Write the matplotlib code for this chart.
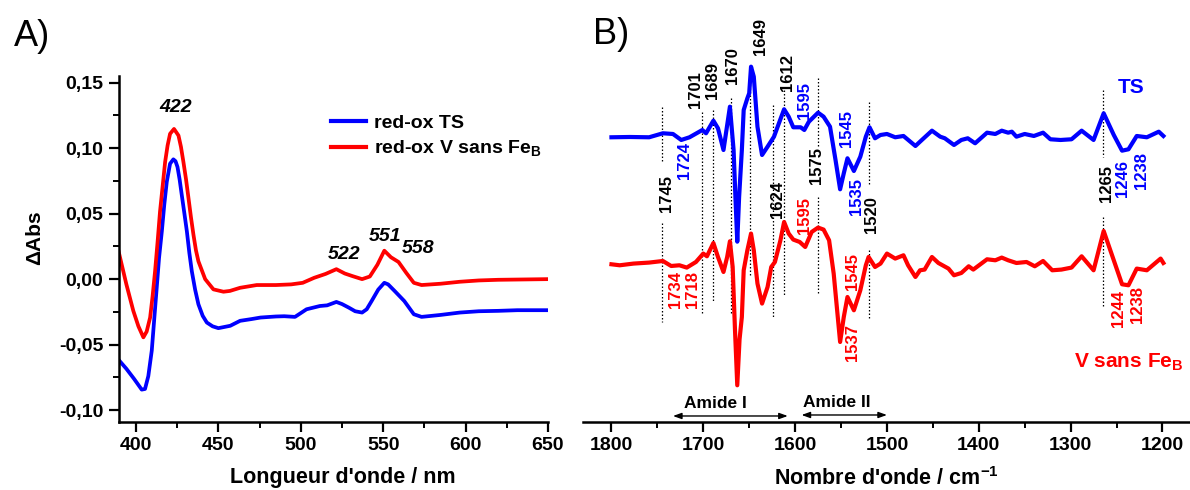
import numpy as np
import matplotlib.pyplot as plt
from matplotlib.ticker import MultipleLocator, FuncFormatter

plt.rcParams['font.family'] = ['Liberation Sans', 'DejaVu Sans']
plt.rcParams['mathtext.fontset'] = 'custom'
plt.rcParams['mathtext.rm'] = 'Liberation Sans'
plt.rcParams['mathtext.bf'] = 'Liberation Sans:bold'
plt.rcParams['mathtext.it'] = 'Liberation Sans:italic'

# ---------------- Panel A : UV-vis red-ox difference spectra ----------------
wl_ts = [389.5, 394.2, 398.8, 403.5, 405.5, 407.5, 409.6, 411, 412.6, 414, 415.7,
         417.2, 418.7, 420.7, 422.7, 424, 425.2, 426.5, 427.8, 429.4, 430.9, 432.4,
         433.9, 435.9, 437.9, 440.5, 443, 446.5, 450, 457.2, 463.2, 470, 475.6,
         484.9, 490, 496.5, 503.5, 511.6, 516, 521.6, 525, 529.1, 533, 537.2, 540,
         543, 547, 550.7, 553, 557, 562.8, 568.6, 573.3, 584.9, 596.5, 608, 619.8,
         631.4, 650]
abs_ts = [-0.0616, -0.0684, -0.076, -0.0843, -0.0838, -0.074, -0.0545, -0.032,
          -0.0066, 0.016, 0.0364, 0.057, 0.0742, 0.0881, 0.0914, 0.090, 0.0856,
          0.076, 0.0642, 0.050, 0.0364, 0.020, 0.006, -0.008, -0.0192, -0.028,
          -0.0331, -0.036, -0.0374, -0.0356, -0.0318, -0.0305, -0.0293, -0.0285,
          -0.0283, -0.0288, -0.023, -0.0205, -0.020, -0.0174, -0.019, -0.0217,
          -0.0245, -0.0255, -0.023, -0.0167, -0.008, -0.0028, -0.004, -0.0091,
          -0.0167, -0.0268, -0.0288, -0.0273, -0.0255, -0.0245, -0.0242, -0.0237,
          -0.0237]

wl_v = [389.5, 394.2, 398.4, 401.5, 404.5, 406.5, 408.6, 410.1, 411.6, 413.1,
        414.6, 416.2, 417.7, 419.2, 420.7, 423.1, 425.8, 427.3, 428.8, 430.4, 431.9,
        433.4, 434.9, 436.4, 437.9, 442, 447, 453.1, 457, 463.2, 473.3, 484.9,
        494.2, 501.2, 508.1, 515.1, 521.6, 526.7, 531.4, 537.2, 541.9, 546.5, 550.7,
        554.7, 559.3, 564, 568.6, 573.3, 584.9, 596.5, 608, 619.8, 650]
abs_v = [0.021, -0.004, -0.0242, -0.036, -0.0444, -0.040, -0.0293, -0.013, 0.006,
         0.028, 0.0515, 0.071, 0.0894, 0.102, 0.1109, 0.1146, 0.1096, 0.101, 0.0894,
         0.076, 0.0616, 0.047, 0.0338, 0.022, 0.0136, 0.0, -0.0078, -0.0096, -0.009,
         -0.0066, -0.0045, -0.0045, -0.004, -0.0028, 0.001, 0.004, 0.0076, 0.0043,
         0.0023, 0.0, 0.002, 0.011, 0.0217, 0.0167, 0.0131, 0.0048, -0.0028, -0.0045,
         -0.0035, -0.002, -0.001, -0.0005, 0.0]

peaks_a = ['422', '522', '551', '558']

# ---------------- Panel B : FTIR red-ox difference spectra ----------------
wn_ts = [1800, 1780, 1759, 1744, 1733, 1724, 1715, 1701, 1697, 1689, 1684, 1678,
         1671, 1667, 1665, 1663, 1661, 1658, 1656, 1652, 1650, 1648, 1645, 1641,
         1636, 1630, 1623, 1619, 1612, 1607, 1602, 1594, 1590, 1585, 1575, 1569,
         1562, 1556, 1551, 1547, 1543, 1536, 1529, 1523, 1519, 1513, 1507, 1500,
         1491, 1482, 1469, 1462, 1451, 1442, 1437, 1427, 1419, 1412, 1404, 1391,
         1382, 1375, 1368, 1364, 1359, 1350, 1340, 1330, 1322, 1311, 1299, 1288,
         1275, 1264, 1253, 1244, 1237, 1228, 1217, 1204, 1199]
ir_ts = [0.0, 0.03, 0.0, 0.4, 0.33, -0.27, 0.0, 0.73, 0.4, 1.66, 0.9, -1.27, 3.06,
         -1.27, -6.0, -10.44, -6.0, -1.27, 2.73, 3.9, 4.4, 7.06, 6.06, 1.06, -1.77,
         -0.94, 0.06, 1.06, 2.8, 2.06, 1.0, 1.0, 0.73, 1.56, 2.46, 2.06, 1.06, -2.27,
         -5.2, -3.6, -2.1, -3.37, -1.94, 0.06, 1.0, -0.1, 0.23, 0.33, 0.0, 0.13,
         -0.87, -0.27, 0.66, 0.06, -0.1, -0.77, -0.27, -0.1, -0.6, 0.46, 0.33, 0.66,
         0.46, 0.56, 0.06, 0.33, 0.13, 0.46, -0.2, -0.27, -0.2, 0.66, -0.27, 2.4,
         0.23, -1.34, -1.2, 0.13, 0.0, 0.56, 0.13]

wn_v = [1800, 1791, 1776, 1759, 1744, 1735, 1726, 1718, 1708, 1700, 1696, 1689,
        1684, 1678, 1674, 1671, 1668, 1665.5, 1663, 1660.5, 1658, 1656, 1652, 1648,
        1645, 1641, 1636, 1630, 1626, 1622, 1616, 1612, 1607, 1602, 1595, 1589,
        1582, 1575, 1569, 1563, 1558, 1551, 1547, 1543, 1536, 1529, 1523, 1520,
        1513, 1507, 1500, 1491, 1482, 1477, 1469, 1464, 1459, 1451, 1444, 1433,
        1427, 1419, 1411, 1406, 1391, 1382, 1375, 1368, 1359, 1348, 1339, 1330,
        1320, 1310, 1299, 1288, 1275, 1264, 1253, 1244, 1237, 1228, 1217, 1202, 1199]
ir_v = [0.0, -0.1, 0.07, 0.17, 0.33, -0.17, -0.1, -0.33, 0.23, 1.07, 0.8, 2.13,
        0.73, -0.77, 0.73, 2.3, -0.27, -6.5, -12.1, -7.5, -5.27, -0.6, 1.4, 3.07,
        1.4, -1.93, -3.93, -2.27, -0.27, 0.23, 2.4, 4.23, 3.07, 2.47, 2.23, 1.73,
        3.23, 3.67, 3.47, 2.4, -0.93, -7.77, -5.27, -3.27, -4.6, -2.6, -0.1, 0.73,
        -0.27, 0.07, 1.07, 0.57, 0.9, -0.1, -1.27, -0.6, -0.53, 0.73, 0.13, -0.43,
        -1.1, -0.87, -0.2, -0.53, 0.5, 0.4, 0.67, 0.4, 0.13, 0.23, -0.2, 0.33, -0.6,
        -0.53, -0.33, 0.8, -0.6, 3.33, 0.4, -2.0, -2.1, -0.43, -0.6, 0.57, 0.13]
v_offset = -12.7

# band labels: text, x, y, colour
band_labels = [
    ('1745', 1740, -5.62, 'black'), ('1724', 1720, -2.32, 'blue'),
    ('1701', 1709, 4.73, 'black'), ('1689', 1690, 5.68, 'black'),
    ('1670', 1668, 7.18, 'black'), ('1649', 1638, 10.08, 'black'),
    ('1612', 1608, 6.48, 'black'), ('1595', 1590, 3.68, 'blue'),
    ('1545', 1544, 0.88, 'blue'), ('1575', 1577, -2.82, 'black'),
    ('1535', 1533, -5.92, 'blue'), ('1520', 1517, -7.77, 'black'),
    ('1624', 1619, -6.22, 'black'), ('1595', 1590, -7.82, 'red'),
    ('1265', 1261, -4.67, 'black'), ('1246', 1243, -4.12, 'blue'),
    ('1238', 1223, -3.32, 'blue'), ('1734', 1730, -15.27, 'red'),
    ('1718', 1712, -15.27, 'red'), ('1545', 1538, -13.42, 'red'),
    ('1537', 1537, -20.52, 'red'), ('1244', 1248, -17.17, 'red'),
    ('1238', 1227, -16.77, 'red')]

# dotted guide lines: position, (top, bottom) segments
guides = [
    (1745, [(3.03, -2.57), (-8.57, -18.47)]),
    (1701, [(2.53, -17.57)]),
    (1689, [(2.73, -16.47)]),
    (1670, [(3.93, -17.57)]),
    (1649, [(7.03, -13.97)]),
    (1624, [(3.23, -17.97)]),
    (1612, [(4.73, -15.77)]),
    (1575, [(5.93, -0.97), (-5.97, -15.77)]),
    (1520, [(3.53, -4.77), (-11.27, -18.07)]),
    (1265, [(4.73, -1.97), (-7.97, -16.97)]),
]

fig = plt.figure(figsize=(11.9, 4.9), dpi=100)

# ---------- A ----------
ax1 = fig.add_axes([0.0997, 0.1388, 0.3608, 0.7061])
ax1.plot(wl_ts, abs_ts, color='#0000ff', lw=2.7, label='red-ox TS')
ax1.plot(wl_v, abs_v, color='#ff0000', lw=2.7, label='red-ox V sans Fe$_\\mathbf{B}$')
ax1.set_xlim(389.5, 650)
ax1.set_ylim(-0.109, 0.155)
ax1.xaxis.set_major_locator(MultipleLocator(50))
ax1.xaxis.set_minor_locator(MultipleLocator(25))
ax1.yaxis.set_major_locator(MultipleLocator(0.05))
ax1.yaxis.set_minor_locator(MultipleLocator(0.025))
ax1.yaxis.set_major_formatter(FuncFormatter(lambda v, p: f'{v:.2f}'.replace('.', ',')))
for s in ['top', 'right']:
    ax1.spines[s].set_visible(False)
for s in ['left', 'bottom']:
    ax1.spines[s].set_linewidth(1.8)
ax1.tick_params(which='major', direction='out', length=7, width=1.6, labelsize=14, pad=4)
ax1.tick_params(which='minor', direction='out', length=4, width=1.4)
for t in ax1.get_xticklabels() + ax1.get_yticklabels():
    t.set_fontweight('bold')

leg = ax1.legend(loc='upper left', bbox_to_anchor=(0.495, 0.89), frameon=False,
                 borderpad=0, borderaxespad=0, handlelength=1.8, handletextpad=0.4,
                 labelspacing=0.35, prop={'weight': 'bold', 'size': 14})
for ln in leg.get_lines():
    ln.set_linewidth(3)

pk_pos = [(423.8, 0.131), (526.2, 0.0187), (551.1, 0.0326), (571.4, 0.0237)]
for txt, (x, y) in zip(peaks_a, pk_pos):
    ax1.text(x, y, txt, ha='center', va='center', fontsize=14,
             fontweight='bold', style='italic')

fig.text(35 / 1190, 1 - 238 / 490, '\u0394Abs', rotation=90, ha='center',
         va='center', fontsize=15, fontweight='bold')
fig.text(342.5 / 1190, 1 - 477 / 490, "Longueur d'onde / nm", ha='center',
         va='center', fontsize=15.5, fontweight='bold')
fig.text(32 / 1190, 1 - 37 / 490, 'A)', ha='center', va='center', fontsize=26)

# ---------- B ----------
ax2 = fig.add_axes([0.4899, 0.1388, 0.5101, 0.749])
ax2.plot(wn_ts, ir_ts, color='#0000ff', lw=3, solid_joinstyle='round')
ax2.plot(wn_v, np.array(ir_v) + v_offset, color='#ff0000', lw=3,
         solid_joinstyle='round')
ax2.set_xlim(1831, 1170)
ax2.set_ylim(-28.47, 8.23)
ax2.xaxis.set_major_locator(MultipleLocator(100))
ax2.xaxis.set_minor_locator(MultipleLocator(50))
ax2.set_yticks([])
for s in ['top', 'right', 'left']:
    ax2.spines[s].set_visible(False)
ax2.spines['bottom'].set_linewidth(1.8)
ax2.tick_params(which='major', direction='out', length=7, width=1.6, labelsize=14, pad=4)
ax2.tick_params(which='minor', direction='out', length=4, width=1.4)
for t in ax2.get_xticklabels():
    t.set_fontweight('bold')

for pos, segs in guides:
    for top, bot in segs:
        ax2.plot([pos, pos], [top, bot], color='black', lw=0.9,
                 ls=(0, (1.2, 1.6)), zorder=1)

for txt, x, y, c in band_labels:
    ax2.text(x, y, txt, rotation=90, ha='center', va='center', fontsize=12,
             color=c, fontweight='bold')

ax2.text(1234, 4.93, 'TS', color='#0000ff', fontsize=15, fontweight='bold',
         ha='center', va='center')
ax2.text(1177, -22.47, 'V sans Fe$_\\mathbf{B}$', color='#ff0000', fontsize=15,
         fontweight='bold', ha='right', va='center')

arrow_kw = dict(arrowstyle='<|-|>,head_length=0.5,head_width=0.18', lw=1.0,
                color='black', shrinkA=0, shrinkB=0)
ax2.annotate('', xy=(1733, -27.87), xytext=(1608, -27.87), arrowprops=arrow_kw)
ax2.annotate('', xy=(1593, -27.77), xytext=(1500, -27.77), arrowprops=arrow_kw)
ax2.text(1687, -26.67, 'Amide I', ha='center', va='center', fontsize=12.5,
         fontweight='bold')
ax2.text(1555, -26.57, 'Amide II', ha='center', va='center', fontsize=12.5,
         fontweight='bold')

fig.text(886 / 1190, 1 - 479 / 490, "Nombre d'onde / cm$^\\mathbf{-1}$", ha='center',
         va='center', fontsize=15.5, fontweight='bold')
fig.text(611 / 1190, 1 - 35 / 490, 'B)', ha='center', va='center', fontsize=26)

fig.savefig('out.png', dpi=100)
